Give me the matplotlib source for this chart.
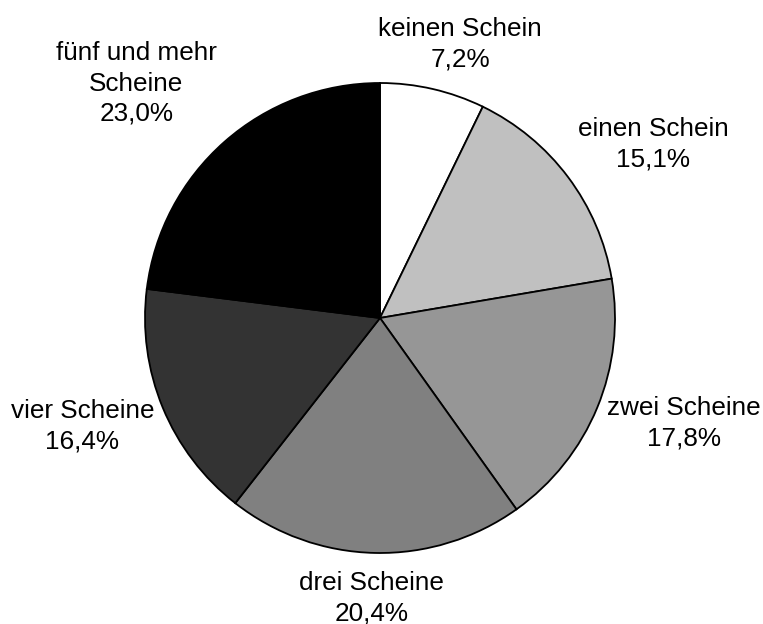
import numpy as np
import matplotlib
matplotlib.use("Agg")
import matplotlib.pyplot as plt

plt.rcParams['font.family'] = ['Liberation Sans', 'DejaVu Sans']

kategorien = ["keinen Schein", "einen Schein", "zwei Scheine", "drei Scheine",
              "vier Scheine", "fünf und mehr\nScheine"]
anteile = [7.2, 15.1, 17.8, 20.4, 16.4, 23.0]
anteil_text = ["7,2%", "15,1%", "17,8%", "20,4%", "16,4%", "23,0%"]

farben = ["#ffffff", "#c0c0c0", "#969696", "#808080", "#333333", "#000000"]
# beschriftung: abstand vom mittelpunkt (in radien) und winkelversatz (grad)
label_r = [1.215, 1.378, 1.369, 1.192, 1.348, 1.439]
label_dw = [-3.3, -4.4, 3.3, -0.5, -2.4, 4.7]

W, H = 763, 624
cx, cy, R = 380, 318, 235
fig = plt.figure(figsize=(W / 100, H / 100), dpi=100)
ax = fig.add_axes([(cx - R) / W, (H - cy - R) / H, 2 * R / W, 2 * R / H])

wedges, _ = ax.pie(anteile, colors=farben, startangle=90, counterclock=False,
                   radius=1.0, wedgeprops=dict(edgecolor="black", linewidth=1.3))

for w, name, txt, r, dw in zip(wedges, kategorien, anteil_text, label_r, label_dw):
    mid = np.deg2rad((w.theta1 + w.theta2) / 2 + dw)
    ax.text(r * np.cos(mid), r * np.sin(mid), name + "\n" + txt,
            ha="center", va="center", fontsize=18.8, linespacing=1.33)

ax.set_xlim(-1, 1)
ax.set_ylim(-1, 1)
ax.set_aspect("equal")
ax.axis("off")

fig.savefig("out.png", dpi=100)
